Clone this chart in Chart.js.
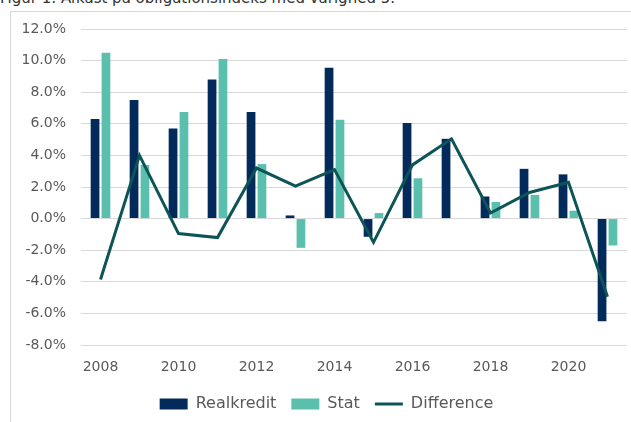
<!DOCTYPE html>
<html>
<head>
<meta charset="utf-8">
<script src="https://cdn.jsdelivr.net/npm/chart.js@4/dist/chart.umd.min.js"></script>
<style>
  html, body { margin:0; padding:0; background:#fff; overflow:hidden; }
  #wrap { position:relative; width:631px; height:422px; }
  #title { position:absolute; left:0; top:-9px; font:15px "DejaVu Sans", sans-serif; color:#333; white-space:nowrap; line-height:15px; }
  #frame { position:absolute; left:10px; top:11px; width:700px; height:500px; border:1px solid #d9d9d9; }
  canvas { position:absolute; left:0; top:0; }
</style>
</head>
<body>
<div id="wrap">
  <div id="title">Figur 1: Afkast på obligationsindeks med varighed 5.</div>
  <div id="frame"></div>
  <canvas id="chart" width="631" height="422"></canvas>
</div>
<script>
// årstal og afkast i procent
const years = ['2008','2009','2010','2011','2012','2013','2014','2015','2016','2017','2018','2019','2020','2021'];
const realkredit = [6.3, 7.5, 5.7, 8.8, 6.75, 0.2, 9.55, -1.15, 6.05, 5.05, 1.4, 3.15, 2.8, -6.5];
const stat       = [10.5, 3.4, 6.75, 10.1, 3.45, -1.85, 6.25, 0.35, 2.55, 0.0, 1.05, 1.5, 0.5, -1.7];
const difference = [-3.85, 4.0, -0.95, -1.2, 3.2, 2.05, 3.1, -1.5, 3.4, 5.05, 0.35, 1.65, 2.3, -4.95];

const FONT = '"DejaVu Sans", sans-serif';
const GREY = '#595959';

// legenden sidder lidt til højre for midten i originalen
const shiftLegend = { id: 'shiftLegend', afterLayout(c) { if (c.legend) c.legend.left += 26; } };

new Chart(document.getElementById('chart'), {
  type: 'bar',
  data: {
    labels: years,
    datasets: [
      { label: 'Realkredit', data: realkredit, backgroundColor: '#022b5c', borderWidth: 0, order: 1,
        categoryPercentage: 0.56, barPercentage: 0.8 },
      { label: 'Stat', data: stat, backgroundColor: '#5bbfae', borderWidth: 0, order: 1,
        categoryPercentage: 0.56, barPercentage: 0.8 },
      { type: 'line', label: 'Difference', data: difference, borderColor: '#0d5457', backgroundColor: '#0d5457',
        borderWidth: 3, pointRadius: 0, tension: 0, order: 0 },
    ]
  },
  plugins: [shiftLegend],
  options: {
    responsive: false, animation: false,
    layout: { padding: { top: 29, right: 4, left: 0, bottom: 0 } },
    plugins: {
      tooltip: { enabled: false },
      legend: {
        position: 'bottom',
        labels: {
          font: { family: FONT, size: 16 }, color: GREY,
          usePointStyle: true, pointStyleWidth: 28, boxHeight: 11, padding: 15,
          sort: (a, b) => a.datasetIndex - b.datasetIndex,
          generateLabels: (chart) => {
            const items = Chart.defaults.plugins.legend.labels.generateLabels(chart);
            items.forEach(it => {
              if (it.text === 'Difference') { it.pointStyle = 'line'; it.lineWidth = 3; it.strokeStyle = '#0d5457'; }
              else { it.pointStyle = 'rect'; it.lineWidth = 0; }
            });
            return items;
          }
        }
      }
    },
    scales: {
      x: {
        grid: { display: false, drawTicks: false },
        border: { display: false },
        ticks: {
          autoSkip: false, maxRotation: 0, padding: 14, color: GREY,
          font: { family: FONT, size: 14 },
          callback: (v, i) => (i % 2 === 0 ? years[i] : '')
        },
        afterFit: (s) => { s.height = 36; }
      },
      y: {
        min: -8, max: 12,
        grid: { color: '#d9d9d9', lineWidth: 1, drawTicks: false },
        border: { display: false },
        ticks: {
          stepSize: 2, padding: 15, color: GREY,
          font: { family: FONT, size: 14 },
          callback: v => v.toFixed(1) + '%'
        },
        afterFit: (s) => { s.width = 81; }
      }
    }
  }
});
</script>
</body>
</html>
